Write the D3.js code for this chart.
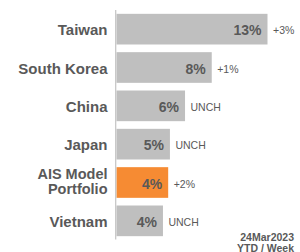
<!DOCTYPE html>
<html>
<head>
<meta charset="utf-8">
<script src="https://cdn.jsdelivr.net/npm/d3@7"></script>
<style>
  html, body { margin: 0; padding: 0; background: #fff; }
  svg { display: block; font-family: "Liberation Sans", Arial, sans-serif; }
</style>
</head>
<body>
<div id="chart"></div>
<script>
const W = 300;
const H = 252;
const AXIS_X = 116.5;
const TEXT = "#595959";

// data
const countries = ["Taiwan", "South Korea", "China", "Japan", "AIS Model Portfolio", "Vietnam"];
const ytdValues = [13.0, 8.2, 5.9, 4.6, 4.45, 4.0];
const ytdLabels = ["13%", "8%", "6%", "5%", "4%", "4%"];
const weekChanges = ["+3%", "+1%", "UNCH", "UNCH", "+2%", "UNCH"];
const highlight = "AIS Model Portfolio";
const dateLines = ["24Mar2023", "YTD / Week"];

const rows = countries.map((c, i) => ({
    name: c,
    value: ytdValues[i],
    label: ytdLabels[i],
    change: weekChanges[i],
}));

const svg = d3.select("#chart").append("svg").attr("width", W).attr("height", H);

const x = d3.scaleLinear().domain([0, 13]).range([AXIS_X, 267.5]);
const y = d3.scaleBand().domain(countries).range([10, 240]).paddingInner(0.2).paddingOuter(0.1);

svg.selectAll("rect.bar")
    .data(rows)
    .join("rect")
    .attr("class", "bar")
    .attr("x", x(0))
    .attr("y", (d) => y(d.name))
    .attr("width", (d) => x(d.value) - x(0))
    .attr("height", y.bandwidth())
    .attr("fill", (d) => (d.name === highlight ? "#f68b33" : "#bfbfbf"));

// vertical axis line
svg.append("line")
    .attr("x1", AXIS_X - 0.8)
    .attr("x2", AXIS_X - 0.8)
    .attr("y1", 10)
    .attr("y2", 239.5)
    .attr("stroke", "#c4c4c4")
    .attr("stroke-width", 1.2);

// category labels
const cat = svg.selectAll("text.cat")
    .data(rows)
    .join("text")
    .attr("class", "cat")
    .attr("x", 107.5)
    .attr("text-anchor", "end")
    .attr("font-size", 15)
    .attr("font-weight", "bold")
    .attr("fill", TEXT);

cat.each(function (d) {
    const t = d3.select(this);
    const cy = y(d.name) + y.bandwidth() / 2;
    if (d.name === highlight) {
        t.append("tspan").attr("x", 107.5).attr("y", cy - 3.5).attr("font-size", 14.5).text("AIS Model");
        t.append("tspan").attr("x", 107.5).attr("y", cy + 11.5).attr("font-size", 14.5).text("Portfolio");
    } else {
        t.attr("y", cy + 6.2).text(d.name);
    }
});

// value labels inside bars
svg.selectAll("text.val")
    .data(rows)
    .join("text")
    .attr("class", "val")
    .attr("x", (d) => x(d.value) - 6)
    .attr("y", (d) => y(d.name) + y.bandwidth() / 2 + 6)
    .attr("text-anchor", "end")
    .attr("font-size", 14)
    .attr("font-weight", "bold")
    .attr("fill", TEXT)
    .text((d) => d.label);

// weekly change labels
svg.selectAll("text.chg")
    .data(rows)
    .join("text")
    .attr("class", "chg")
    .attr("x", (d) => x(d.value) + 5.5)
    .attr("y", (d) => y(d.name) + y.bandwidth() / 2 + 5)
    .attr("font-size", 10.5)
    .attr("fill", TEXT)
    .text((d) => d.change);

// date note
svg.append("text")
    .attr("text-anchor", "end")
    .attr("font-size", 10.5)
    .attr("font-weight", "bold")
    .attr("fill", TEXT)
    .selectAll("tspan")
    .data(dateLines)
    .join("tspan")
    .attr("x", 294)
    .attr("y", (d, i) => 240.5 + i * 11)
    .text((d) => d);
</script>
</body>
</html>
